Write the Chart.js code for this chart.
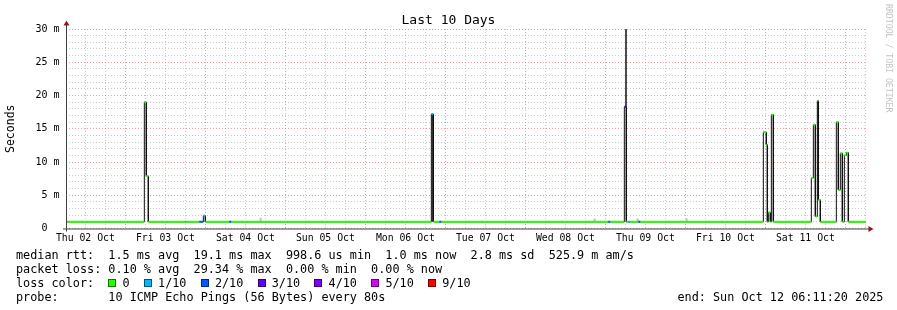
<!DOCTYPE html>
<html>
<head>
<meta charset="utf-8">
<title>Last 10 Days</title>
<script src="https://cdn.jsdelivr.net/npm/chart.js@4.4.1/dist/chart.umd.min.js"></script>
<style>
  html, body { margin: 0; padding: 0; background: #fff; }
  #wrap { position: relative; width: 897px; height: 310px; font-family: "DejaVu Sans Mono", monospace; color: #000; overflow: hidden; }
  #smokeChart { position: absolute; left: 0; top: 0; }
  #graphTitle { position: absolute; left: 0; top: 11.5px; width: 897px; text-align: center; font-size: 13px; line-height: 16px; white-space: pre; }
  .legend { position: absolute; left: 16px; top: 247.5px; font-size: 11.8px; line-height: 14px; white-space: pre; }
  .slot { display: inline-block; width: 2ch; height: 10px; position: relative; vertical-align: -1px; }
  .slot i { position: absolute; left: 0; top: 1px; width: 8px; height: 8px; box-sizing: border-box; border: 1px solid rgba(0,0,0,0.55); }
  #endTime { position: absolute; left: 677.5px; top: 289.5px; font-size: 11.8px; line-height: 14px; white-space: pre; }
  #stamp { position: absolute; left: 884px; top: 4px; writing-mode: vertical-rl; font-size: 8.2px; line-height: 9px; color: #c4c4c4; white-space: pre; }
</style>
</head>
<body>
<div id="wrap">
  <canvas id="smokeChart" width="897" height="310"></canvas>
  <div id="graphTitle">Last 10 Days</div>
  <div class="legend" id="legend"></div>
  <div id="endTime"></div>
  <div id="stamp">RRDTOOL / TOBI OETIKER</div>
</div>
<script>
// x values are hours after the graph start (Thu 02 Oct 06:11:20), y values in ms
const dayLabels = ["Thu 02 Oct", "Fri 03 Oct", "Sat 04 Oct", "Sun 05 Oct", "Mon 06 Oct",
                   "Tue 07 Oct", "Wed 08 Oct", "Thu 09 Oct", "Fri 10 Oct", "Sat 11 Oct"];
const spanHours = 240;
const firstNoon = 5.811; // 12:00 on Thu 02 Oct

// median rtt as steps: each value holds from its start hour to the next one
const stepStart = [0, 23.5, 24.1, 24.7, 35.8, 36.1, 40.0, 41.2, 41.8, 49.0, 49.6,
                   109.6, 110.2, 112.0, 112.6, 162.7, 163.3, 167.5, 168.1, 168.7, 169.3, 171.7, 172.3,
                   209.2, 210.1, 210.4, 210.7, 211.3, 211.6, 212.2,
                   223.6, 224.2, 224.8, 225.4, 225.7, 226.3,
                   231.1, 231.7, 232.3, 232.9, 233.5, 234.1, 234.7];
const medianMs = [1.0, 19.0, 7.9, 1.0, 1.0, 1.0, 1.0, 1.9, 1.0, 1.0, 1.0,
                  17.2, 1.0, 1.0, 1.0, 1.0, 1.0, 18.3, 1.0, 1.0, 1.0, 1.0, 1.0,
                  14.5, 12.6, 1.0, 2.4, 1.0, 17.1, 1.0,
                  7.6, 15.6, 1.8, 19.2, 4.3, 1.0,
                  16.0, 5.8, 11.3, 1.0, 11.0, 11.4, 1.0];
const lossTenths = [0, 0, 0, 0, 1, 0, 2, 1, 0, 2, 0,
                    1, 0, 2, 0, 2, 0, 3, 0, 1, 0, 2, 0,
                    0, 0, 0, 0, 0, 0, 0,
                    0, 0, 0, 0, 0, 0,
                    0, 0, 0, 0, 0, 0, 0];

// smoke (spread between fastest and slowest ping)
const smokeHour = [110.0, 168.0, 58.4, 158.6, 171.5, 186.2];
const smokeLow = [1.0, 18.3, 1.0, 1.0, 1.0, 1.0];
const smokeHigh = [17.2, 30.5, 1.6, 1.5, 1.5, 1.5];

const rttStats = ["1.5 ms avg", "19.1 ms max", "998.6 us min", "1.0 ms now", "2.8 ms sd", "525.9 m am/s"];
const lossStats = ["0.10 % avg", "29.34 % max", "0.00 % min", "0.00 % now"];
const lossBuckets = [0, 1, 2, 3, 4, 5, 9];
const lossLabels = ["0", "1/10", "2/10", "3/10", "4/10", "5/10", "9/10"];
const probeText = "10 ICMP Echo Pings (56 Bytes) every 80s";
const endText = "end: Sun Oct 12 06:11:20 2025";

const lossColors = {0: "#26ff00", 1: "#00b8ff", 2: "#0059ff", 3: "#5e00ff", 4: "#7e00ff", 5: "#dd00ff", 9: "#ff0000"};
const majorGrid = "rgba(220,80,80,0.55)";
const minorGrid = "rgba(150,150,150,0.5)";
const mono = "'DejaVu Sans Mono', monospace";

// build the step line: point 2i -> 2i+1 is flat, 2i+1 -> 2i+2 is the jump
const medianPts = [];
const medianLoss = [];
for (let i = 0; i < stepStart.length; i++) {
    const end = i + 1 < stepStart.length ? stepStart[i + 1] : spanHours;
    medianPts.push({x: stepStart[i], y: medianMs[i]}, {x: end, y: medianMs[i]});
    medianLoss.push(lossTenths[i], lossTenths[i]);
}

const smokePts = [];
for (let i = 0; i < smokeHour.length; i++) {
    smokePts.push({x: smokeHour[i], y: smokeLow[i]}, {x: smokeHour[i], y: smokeHigh[i]}, {x: smokeHour[i], y: null});
}

const xTicks = [];
for (let t = firstNoon; t < spanHours; t += 6) xTicks.push(t);

const axisArrows = {
    id: "axisArrows",
    afterDraw(chart) {
        const {ctx, chartArea: a} = chart;
        ctx.save();
        ctx.strokeStyle = "#404040";
        ctx.lineWidth = 1;
        ctx.beginPath();
        ctx.moveTo(a.left + 0.5, a.bottom + 3);
        ctx.lineTo(a.left + 0.5, a.top - 4);
        ctx.moveTo(a.left - 3, a.bottom + 0.5);
        ctx.lineTo(a.right + 3, a.bottom + 0.5);
        ctx.stroke();
        ctx.fillStyle = "#8b1a1a";
        ctx.beginPath();
        ctx.moveTo(a.left - 2.5, a.top - 3.5);
        ctx.lineTo(a.left + 3.5, a.top - 3.5);
        ctx.lineTo(a.left + 0.5, a.top - 8.5);
        ctx.closePath();
        ctx.fill();
        ctx.beginPath();
        ctx.moveTo(a.right + 2.5, a.bottom - 2.5);
        ctx.lineTo(a.right + 2.5, a.bottom + 3.5);
        ctx.lineTo(a.right + 7.5, a.bottom + 0.5);
        ctx.closePath();
        ctx.fill();
        ctx.restore();
    }
};

const ctx = document.getElementById("smokeChart").getContext("2d");
new Chart(ctx, {
    type: "line",
    data: {
        datasets: [
            {
                label: "median",
                data: medianPts,
                order: 0,
                borderWidth: 2,
                borderCapStyle: "butt",
                pointRadius: 0,
                segment: {
                    borderColor: (c) => c.p0DataIndex % 2 === 0 ? lossColors[medianLoss[c.p0DataIndex]] : "rgba(0,0,0,0)",
                },
            },
            {
                label: "median outline",
                data: medianPts,
                order: 1,
                borderColor: "#111",
                borderWidth: 1,
                pointRadius: 0,
            },
            {
                label: "smoke",
                data: smokePts,
                order: 2,
                borderWidth: 2,
                pointRadius: 0,
                spanGaps: false,
                segment: {
                    borderColor: (c) => {
                        const k = Math.floor(c.p0DataIndex / 3);
                        return smokeHigh[k] - smokeLow[k] > 3 ? "#4a4a4a" : "#c0c0c0";
                    },
                },
            },
        ],
    },
    options: {
        responsive: false,
        animation: false,
        layout: { padding: { left: 0, right: 31, top: 29, bottom: 0 } },
        plugins: {
            legend: { display: false },
            tooltip: { enabled: false },
            title: { display: false },
        },
        scales: {
            x: {
                type: "linear",
                min: 0,
                max: spanHours,
                afterBuildTicks: (scale) => { scale.ticks = xTicks.map((v) => ({value: v})); },
                afterFit: (scale) => { scale.height = 81.5; },
                border: { display: false, dash: [1, 2] },
                grid: {
                    drawTicks: false,
                    color: (c) => c.index % 4 === 2 ? majorGrid : minorGrid,
                },
                ticks: {
                    autoSkip: false,
                    maxRotation: 0,
                    padding: 4,
                    color: "#000",
                    font: { family: mono, size: 9.8 },
                    callback: (v, i) => i % 4 === 0 ? dayLabels[i / 4] : "",
                },
            },
            y: {
                min: 0,
                max: 30,
                afterFit: (scale) => { scale.width = 66; },
                border: { display: false, dash: [1, 2] },
                grid: {
                    drawTicks: false,
                    color: (c) => c.tick.value % 5 === 0 ? majorGrid : minorGrid,
                },
                ticks: {
                    stepSize: 1,
                    maxTicksLimit: 100,
                    autoSkip: false,
                    padding: 6.5,
                    color: "#000",
                    font: { family: mono, size: 10 },
                    callback: (v) => v % 5 === 0 ? (v === 0 ? "0  " : v + " m") : "",
                },
                title: {
                    display: true,
                    text: "Seconds",
                    color: "#000",
                    font: { family: mono, size: 11.5 },
                    padding: { top: 4, bottom: 0 },
                },
            },
        },
    },
    plugins: [axisArrows],
});

// text legend under the graph
const swatches = lossLabels.map((l, i) =>
    '<span class="slot"><i style="background:' + lossColors[lossBuckets[i]] + '"></i></span>' + l).join("  ");
document.getElementById("legend").innerHTML = [
    "median rtt:  " + rttStats.join("  "),
    "packet loss: " + lossStats.join("  "),
    "loss color:  " + swatches,
    "probe:       " + probeText,
].join("\n");
document.getElementById("endTime").textContent = endText;
</script>
</body>
</html>
